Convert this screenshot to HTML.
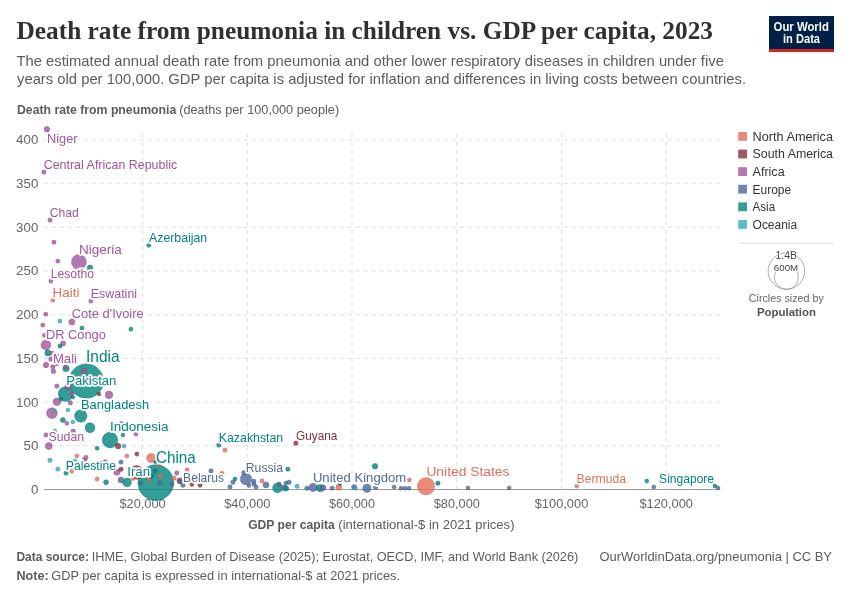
<!DOCTYPE html>
<html lang="en"><head><meta charset="utf-8"><title>Death rate from pneumonia in children vs. GDP per capita, 2023</title>
<style>html,body{margin:0;padding:0;background:#fff}body{width:850px;height:600px;overflow:hidden}svg{display:block}text{font-family:"Liberation Sans", sans-serif}.ser{font-family:"Liberation Serif", serif}.b{font-weight:700}</style></head><body>
<svg width="850" height="600" viewBox="0 0 850 600">
<rect width="850" height="600" fill="#fff"/>
<text x="16.5" y="39.4" font-size="26" fill="#303030" textLength="696.5" lengthAdjust="spacingAndGlyphs" class="ser b">Death rate from pneumonia in children vs. GDP per capita, 2023</text>
<text x="16.4" y="65.7" font-size="15" fill="#5b5b5b" textLength="707.5" lengthAdjust="spacingAndGlyphs">The estimated annual death rate from pneumonia and other lower respiratory diseases in children under five</text>
<text x="17" y="83.6" font-size="15" fill="#5b5b5b" textLength="729" lengthAdjust="spacingAndGlyphs">years old per 100,000. GDP per capita is adjusted for inflation and differences in living costs between countries.</text>
<rect x="769" y="16" width="65" height="36" fill="#002147"/><rect x="769" y="49" width="65" height="3" fill="#ce261e"/>
<text x="801.2" y="30.6" font-size="12" fill="#fff" textLength="55.3" lengthAdjust="spacingAndGlyphs" text-anchor="middle" class="b">Our World</text>
<text x="801.5" y="43.2" font-size="12" fill="#fff" textLength="37" lengthAdjust="spacingAndGlyphs" text-anchor="middle" class="b">in Data</text>
<text x="17" y="114.1" font-size="13" fill="#5b5b5b" textLength="159.2" lengthAdjust="spacingAndGlyphs" class="b">Death rate from pneumonia</text>
<text x="179.2" y="114.1" font-size="13" fill="#5b5b5b" textLength="160" lengthAdjust="spacingAndGlyphs">(deaths per 100,000 people)</text>
<line x1="43.6" x2="720" y1="445.8" y2="445.8" stroke="#ddd" stroke-dasharray="4,4"/>
<line x1="43.6" x2="720" y1="402.1" y2="402.1" stroke="#ddd" stroke-dasharray="4,4"/>
<line x1="43.6" x2="720" y1="358.4" y2="358.4" stroke="#ddd" stroke-dasharray="4,4"/>
<line x1="43.6" x2="720" y1="314.7" y2="314.7" stroke="#ddd" stroke-dasharray="4,4"/>
<line x1="43.6" x2="720" y1="271.0" y2="271.0" stroke="#ddd" stroke-dasharray="4,4"/>
<line x1="43.6" x2="720" y1="227.3" y2="227.3" stroke="#ddd" stroke-dasharray="4,4"/>
<line x1="43.6" x2="720" y1="183.6" y2="183.6" stroke="#ddd" stroke-dasharray="4,4"/>
<line x1="43.6" x2="720" y1="139.9" y2="139.9" stroke="#ddd" stroke-dasharray="4,4"/>
<text x="38.3" y="493.9" font-size="12.8" fill="#666" textLength="7.4" lengthAdjust="spacingAndGlyphs" text-anchor="end">0</text>
<text x="38.3" y="450.2" font-size="12.8" fill="#666" textLength="14.8" lengthAdjust="spacingAndGlyphs" text-anchor="end">50</text>
<text x="38.3" y="406.5" font-size="12.8" fill="#666" textLength="22.2" lengthAdjust="spacingAndGlyphs" text-anchor="end">100</text>
<text x="38.3" y="362.8" font-size="12.8" fill="#666" textLength="22.2" lengthAdjust="spacingAndGlyphs" text-anchor="end">150</text>
<text x="38.3" y="319.1" font-size="12.8" fill="#666" textLength="22.2" lengthAdjust="spacingAndGlyphs" text-anchor="end">200</text>
<text x="38.3" y="275.4" font-size="12.8" fill="#666" textLength="22.2" lengthAdjust="spacingAndGlyphs" text-anchor="end">250</text>
<text x="38.3" y="231.7" font-size="12.8" fill="#666" textLength="22.2" lengthAdjust="spacingAndGlyphs" text-anchor="end">300</text>
<text x="38.3" y="188.0" font-size="12.8" fill="#666" textLength="22.2" lengthAdjust="spacingAndGlyphs" text-anchor="end">350</text>
<text x="38.3" y="144.3" font-size="12.8" fill="#666" textLength="22.2" lengthAdjust="spacingAndGlyphs" text-anchor="end">400</text>
<line y1="489.5" y2="130" x1="142.6" x2="142.6" stroke="#ddd" stroke-dasharray="4,4"/>
<text x="142.6" y="507.6" font-size="12.8" fill="#666" textLength="46.2" lengthAdjust="spacingAndGlyphs" text-anchor="middle">$20,000</text>
<line y1="489.5" y2="130" x1="247.3" x2="247.3" stroke="#ddd" stroke-dasharray="4,4"/>
<text x="247.3" y="507.6" font-size="12.8" fill="#666" textLength="46.2" lengthAdjust="spacingAndGlyphs" text-anchor="middle">$40,000</text>
<line y1="489.5" y2="130" x1="352.0" x2="352.0" stroke="#ddd" stroke-dasharray="4,4"/>
<text x="352.0" y="507.6" font-size="12.8" fill="#666" textLength="46.2" lengthAdjust="spacingAndGlyphs" text-anchor="middle">$60,000</text>
<line y1="489.5" y2="130" x1="456.8" x2="456.8" stroke="#ddd" stroke-dasharray="4,4"/>
<text x="456.8" y="507.6" font-size="12.8" fill="#666" textLength="46.2" lengthAdjust="spacingAndGlyphs" text-anchor="middle">$80,000</text>
<line y1="489.5" y2="130" x1="561.5" x2="561.5" stroke="#ddd" stroke-dasharray="4,4"/>
<text x="561.5" y="507.6" font-size="12.8" fill="#666" textLength="53.6" lengthAdjust="spacingAndGlyphs" text-anchor="middle">$100,000</text>
<line y1="489.5" y2="130" x1="666.2" x2="666.2" stroke="#ddd" stroke-dasharray="4,4"/>
<text x="666.2" y="507.6" font-size="12.8" fill="#666" textLength="53.6" lengthAdjust="spacingAndGlyphs" text-anchor="middle">$120,000</text>
<line x1="43.6" x2="720" y1="489.5" y2="489.5" stroke="#999" stroke-width="1"/>
<text x="248.2" y="528.8" font-size="13" fill="#5b5b5b" textLength="86.6" lengthAdjust="spacingAndGlyphs" class="b">GDP per capita</text>
<text x="338.3" y="528.8" font-size="13" fill="#5b5b5b" textLength="176.2" lengthAdjust="spacingAndGlyphs">(international-$ in 2021 prices)</text>
<g stroke-width="0.5">
<circle cx="86.3" cy="381.1" r="17.2" fill="#00847E" fill-opacity="0.8" stroke="#006662" stroke-opacity="0.75"/>
<circle cx="155.8" cy="482.6" r="17.9" fill="#00847E" fill-opacity="0.8" stroke="#006662" stroke-opacity="0.75"/>
<circle cx="426" cy="486.2" r="8.6" fill="#E56E5A" fill-opacity="0.8" stroke="#b25546" stroke-opacity="0.75"/>
<circle cx="110" cy="440.1" r="7.8" fill="#00847E" fill-opacity="0.8" stroke="#006662" stroke-opacity="0.75"/>
<circle cx="65.6" cy="394.1" r="7.4" fill="#00847E" fill-opacity="0.8" stroke="#006662" stroke-opacity="0.75"/>
<circle cx="78.9" cy="262.0" r="7.5" fill="#A2559C" fill-opacity="0.8" stroke="#7e4279" stroke-opacity="0.75"/>
<circle cx="136.6" cy="472.4" r="6.9" fill="#883039" fill-opacity="0.8" stroke="#6a252c" stroke-opacity="0.75"/>
<circle cx="80.8" cy="416.0" r="6.2" fill="#00847E" fill-opacity="0.8" stroke="#006662" stroke-opacity="0.75"/>
<circle cx="246" cy="479.1" r="5.8" fill="#4C6A9C" fill-opacity="0.8" stroke="#3b5279" stroke-opacity="0.75"/>
<circle cx="51.9" cy="413.1" r="5.4" fill="#A2559C" fill-opacity="0.8" stroke="#7e4279" stroke-opacity="0.75"/>
<circle cx="90" cy="427.8" r="5" fill="#00847E" fill-opacity="0.8" stroke="#006662" stroke-opacity="0.75"/>
<circle cx="277.5" cy="487.8" r="4.9" fill="#00847E" fill-opacity="0.8" stroke="#006662" stroke-opacity="0.75"/>
<circle cx="45.9" cy="345.0" r="4.9" fill="#A2559C" fill-opacity="0.8" stroke="#7e4279" stroke-opacity="0.75"/>
<circle cx="151.2" cy="458.1" r="4.6" fill="#E56E5A" fill-opacity="0.8" stroke="#b25546" stroke-opacity="0.75"/>
<circle cx="127" cy="482.4" r="4.4" fill="#00847E" fill-opacity="0.8" stroke="#006662" stroke-opacity="0.75"/>
<circle cx="313.1" cy="487.4" r="4.2" fill="#4C6A9C" fill-opacity="0.8" stroke="#3b5279" stroke-opacity="0.75"/>
<circle cx="366.9" cy="488.2" r="4.2" fill="#4C6A9C" fill-opacity="0.8" stroke="#3b5279" stroke-opacity="0.75"/>
<circle cx="109" cy="394.9" r="3.8" fill="#A2559C" fill-opacity="0.8" stroke="#7e4279" stroke-opacity="0.75"/>
<circle cx="56.9" cy="401.8" r="3.8" fill="#A2559C" fill-opacity="0.8" stroke="#7e4279" stroke-opacity="0.75"/>
<circle cx="320" cy="488.1" r="3.6" fill="#00847E" fill-opacity="0.8" stroke="#006662" stroke-opacity="0.75"/>
<circle cx="48.8" cy="446.0" r="3.4" fill="#A2559C" fill-opacity="0.8" stroke="#7e4279" stroke-opacity="0.75"/>
<circle cx="66" cy="368.4" r="3.2" fill="#00847E" fill-opacity="0.8" stroke="#006662" stroke-opacity="0.75"/>
<circle cx="116.9" cy="472.1" r="3.2" fill="#A2559C" fill-opacity="0.8" stroke="#7e4279" stroke-opacity="0.75"/>
<circle cx="266" cy="484.9" r="3.0" fill="#4C6A9C" fill-opacity="0.8" stroke="#3b5279" stroke-opacity="0.75"/>
<circle cx="47.9" cy="352.9" r="3.1" fill="#00847E" fill-opacity="0.8" stroke="#006662" stroke-opacity="0.75"/>
<circle cx="71.9" cy="322.0" r="3.1" fill="#A2559C" fill-opacity="0.8" stroke="#7e4279" stroke-opacity="0.75"/>
<circle cx="323" cy="487.8" r="3" fill="#4C6A9C" fill-opacity="0.8" stroke="#3b5279" stroke-opacity="0.75"/>
<circle cx="284.4" cy="487.8" r="3" fill="#4C6A9C" fill-opacity="0.8" stroke="#3b5279" stroke-opacity="0.75"/>
<circle cx="338.8" cy="487.2" r="3" fill="#E56E5A" fill-opacity="0.8" stroke="#b25546" stroke-opacity="0.75"/>
<circle cx="120.9" cy="480.0" r="2.9" fill="#4C6A9C" fill-opacity="0.8" stroke="#3b5279" stroke-opacity="0.75"/>
<circle cx="179.7" cy="480.7" r="2.8" fill="#883039" fill-opacity="0.8" stroke="#6a252c" stroke-opacity="0.75"/>
<circle cx="118.1" cy="446.1" r="2.8" fill="#883039" fill-opacity="0.8" stroke="#6a252c" stroke-opacity="0.75"/>
<circle cx="375" cy="466.2" r="2.8" fill="#00847E" fill-opacity="0.8" stroke="#006662" stroke-opacity="0.75"/>
<circle cx="90" cy="267.9" r="2.8" fill="#00847E" fill-opacity="0.8" stroke="#006662" stroke-opacity="0.75"/>
<circle cx="46.9" cy="129.2" r="2.8" fill="#A2559C" fill-opacity="0.8" stroke="#7e4279" stroke-opacity="0.75"/>
<circle cx="84" cy="370.9" r="2.8" fill="#A2559C" fill-opacity="0.8" stroke="#7e4279" stroke-opacity="0.75"/>
<circle cx="46" cy="365.1" r="2.8" fill="#A2559C" fill-opacity="0.8" stroke="#7e4279" stroke-opacity="0.75"/>
<circle cx="63.1" cy="343.4" r="2.6" fill="#A2559C" fill-opacity="0.8" stroke="#7e4279" stroke-opacity="0.75"/>
<circle cx="106" cy="482.2" r="2.5" fill="#00847E" fill-opacity="0.8" stroke="#006662" stroke-opacity="0.75"/>
<circle cx="62.9" cy="420.1" r="2.5" fill="#00847E" fill-opacity="0.8" stroke="#006662" stroke-opacity="0.75"/>
<circle cx="286.3" cy="488.4" r="2.5" fill="#00847E" fill-opacity="0.8" stroke="#006662" stroke-opacity="0.75"/>
<circle cx="354.1" cy="486.9" r="2.5" fill="#4C6A9C" fill-opacity="0.8" stroke="#3b5279" stroke-opacity="0.75"/>
<circle cx="68" cy="386.8" r="3.2" fill="#A2559C" fill-opacity="0.8" stroke="#7e4279" stroke-opacity="0.75"/>
<circle cx="58" cy="356.0" r="2" fill="#A2559C" fill-opacity="0.8" stroke="#7e4279" stroke-opacity="0.75"/>
<circle cx="56.9" cy="363.9" r="2" fill="#A2559C" fill-opacity="0.8" stroke="#7e4279" stroke-opacity="0.75"/>
<circle cx="73.1" cy="431.6" r="2.5" fill="#A2559C" fill-opacity="0.8" stroke="#7e4279" stroke-opacity="0.75"/>
<circle cx="84.4" cy="460.3" r="2.5" fill="#A2559C" fill-opacity="0.8" stroke="#7e4279" stroke-opacity="0.75"/>
<circle cx="105" cy="462.2" r="2.5" fill="#A2559C" fill-opacity="0.8" stroke="#7e4279" stroke-opacity="0.75"/>
<circle cx="121.6" cy="424.1" r="2.6" fill="#A2559C" fill-opacity="0.8" stroke="#7e4279" stroke-opacity="0.75"/>
<circle cx="151.2" cy="476.1" r="2.5" fill="#00847E" fill-opacity="0.8" stroke="#006662" stroke-opacity="0.75"/>
<circle cx="53.4" cy="371.3" r="2.4" fill="#A2559C" fill-opacity="0.8" stroke="#7e4279" stroke-opacity="0.75"/>
<circle cx="52.9" cy="366.8" r="2.3" fill="#A2559C" fill-opacity="0.8" stroke="#7e4279" stroke-opacity="0.75"/>
<circle cx="51" cy="359.1" r="2.3" fill="#A2559C" fill-opacity="0.8" stroke="#7e4279" stroke-opacity="0.75"/>
<circle cx="70.3" cy="402.8" r="2.3" fill="#A2559C" fill-opacity="0.8" stroke="#7e4279" stroke-opacity="0.75"/>
<circle cx="253.8" cy="481.3" r="2.2" fill="#4C6A9C" fill-opacity="0.8" stroke="#3b5279" stroke-opacity="0.75"/>
<circle cx="253.8" cy="483.9" r="2.2" fill="#4C6A9C" fill-opacity="0.8" stroke="#3b5279" stroke-opacity="0.75"/>
<circle cx="43.9" cy="172.1" r="2.2" fill="#A2559C" fill-opacity="0.8" stroke="#7e4279" stroke-opacity="0.75"/>
<circle cx="50" cy="220.1" r="2.2" fill="#A2559C" fill-opacity="0.8" stroke="#7e4279" stroke-opacity="0.75"/>
<circle cx="54" cy="242.2" r="2.1" fill="#A2559C" fill-opacity="0.8" stroke="#7e4279" stroke-opacity="0.75"/>
<circle cx="57.8" cy="261.1" r="2.1" fill="#A2559C" fill-opacity="0.8" stroke="#7e4279" stroke-opacity="0.75"/>
<circle cx="148.8" cy="245.3" r="2.1" fill="#00847E" fill-opacity="0.8" stroke="#006662" stroke-opacity="0.75"/>
<circle cx="50.9" cy="281.1" r="2.1" fill="#A2559C" fill-opacity="0.8" stroke="#7e4279" stroke-opacity="0.75"/>
<circle cx="52.8" cy="300.3" r="2" fill="#E56E5A" fill-opacity="0.8" stroke="#b25546" stroke-opacity="0.75"/>
<circle cx="90.9" cy="301.1" r="2.1" fill="#A2559C" fill-opacity="0.8" stroke="#7e4279" stroke-opacity="0.75"/>
<circle cx="45.8" cy="314.2" r="2.1" fill="#A2559C" fill-opacity="0.8" stroke="#7e4279" stroke-opacity="0.75"/>
<circle cx="59.9" cy="321.1" r="2.1" fill="#38AABA" fill-opacity="0.8" stroke="#2b8491" stroke-opacity="0.75"/>
<circle cx="42.8" cy="325.1" r="2.1" fill="#A2559C" fill-opacity="0.8" stroke="#7e4279" stroke-opacity="0.75"/>
<circle cx="82" cy="328.1" r="2.1" fill="#00847E" fill-opacity="0.8" stroke="#006662" stroke-opacity="0.75"/>
<circle cx="130.9" cy="329.1" r="2.1" fill="#00847E" fill-opacity="0.8" stroke="#006662" stroke-opacity="0.75"/>
<circle cx="44.5" cy="335.3" r="2.1" fill="#A2559C" fill-opacity="0.8" stroke="#7e4279" stroke-opacity="0.75"/>
<circle cx="60" cy="346.1" r="2.2" fill="#00847E" fill-opacity="0.8" stroke="#006662" stroke-opacity="0.75"/>
<circle cx="51.9" cy="353.1" r="2.1" fill="#A2559C" fill-opacity="0.8" stroke="#7e4279" stroke-opacity="0.75"/>
<circle cx="65" cy="367.2" r="1.8" fill="#A2559C" fill-opacity="0.8" stroke="#7e4279" stroke-opacity="0.75"/>
<circle cx="56.9" cy="386.1" r="2.2" fill="#A2559C" fill-opacity="0.8" stroke="#7e4279" stroke-opacity="0.75"/>
<circle cx="71.9" cy="394.1" r="2" fill="#A2559C" fill-opacity="0.8" stroke="#7e4279" stroke-opacity="0.75"/>
<circle cx="73.1" cy="397.2" r="1.8" fill="#00847E" fill-opacity="0.8" stroke="#006662" stroke-opacity="0.75"/>
<circle cx="61" cy="399.1" r="1.8" fill="#00847E" fill-opacity="0.8" stroke="#006662" stroke-opacity="0.75"/>
<circle cx="99" cy="394.1" r="1.9" fill="#883039" fill-opacity="0.8" stroke="#6a252c" stroke-opacity="0.75"/>
<circle cx="54" cy="410.9" r="1.8" fill="#38AABA" fill-opacity="0.8" stroke="#2b8491" stroke-opacity="0.75"/>
<circle cx="67.9" cy="410.1" r="2" fill="#38AABA" fill-opacity="0.8" stroke="#2b8491" stroke-opacity="0.75"/>
<circle cx="66.9" cy="423.2" r="2" fill="#A2559C" fill-opacity="0.8" stroke="#7e4279" stroke-opacity="0.75"/>
<circle cx="72.9" cy="421.9" r="2" fill="#38AABA" fill-opacity="0.8" stroke="#2b8491" stroke-opacity="0.75"/>
<circle cx="54.8" cy="430.9" r="2" fill="#38AABA" fill-opacity="0.8" stroke="#2b8491" stroke-opacity="0.75"/>
<circle cx="46" cy="434.9" r="2.2" fill="#A2559C" fill-opacity="0.8" stroke="#7e4279" stroke-opacity="0.75"/>
<circle cx="106.9" cy="441.2" r="1.8" fill="#38AABA" fill-opacity="0.8" stroke="#2b8491" stroke-opacity="0.75"/>
<circle cx="122.9" cy="435.1" r="2" fill="#00847E" fill-opacity="0.8" stroke="#006662" stroke-opacity="0.75"/>
<circle cx="136" cy="434.2" r="2" fill="#A2559C" fill-opacity="0.8" stroke="#7e4279" stroke-opacity="0.75"/>
<circle cx="126.3" cy="427.8" r="1.9" fill="#A2559C" fill-opacity="0.8" stroke="#7e4279" stroke-opacity="0.75"/>
<circle cx="124" cy="446.1" r="2" fill="#38AABA" fill-opacity="0.8" stroke="#2b8491" stroke-opacity="0.75"/>
<circle cx="97.1" cy="448.2" r="2" fill="#00847E" fill-opacity="0.8" stroke="#006662" stroke-opacity="0.75"/>
<circle cx="76.9" cy="455.9" r="2" fill="#E56E5A" fill-opacity="0.8" stroke="#b25546" stroke-opacity="0.75"/>
<circle cx="85.9" cy="457.4" r="2.2" fill="#A2559C" fill-opacity="0.8" stroke="#7e4279" stroke-opacity="0.75"/>
<circle cx="75" cy="460.9" r="2" fill="#38AABA" fill-opacity="0.8" stroke="#2b8491" stroke-opacity="0.75"/>
<circle cx="126.9" cy="456.1" r="2" fill="#E56E5A" fill-opacity="0.8" stroke="#b25546" stroke-opacity="0.75"/>
<circle cx="136.9" cy="454.1" r="2.1" fill="#883039" fill-opacity="0.8" stroke="#6a252c" stroke-opacity="0.75"/>
<circle cx="50" cy="460.3" r="2.2" fill="#38AABA" fill-opacity="0.8" stroke="#2b8491" stroke-opacity="0.75"/>
<circle cx="121" cy="462.1" r="2.2" fill="#4C6A9C" fill-opacity="0.8" stroke="#3b5279" stroke-opacity="0.75"/>
<circle cx="57.9" cy="469.1" r="2.2" fill="#38AABA" fill-opacity="0.8" stroke="#2b8491" stroke-opacity="0.75"/>
<circle cx="121" cy="469.2" r="2.2" fill="#883039" fill-opacity="0.8" stroke="#6a252c" stroke-opacity="0.75"/>
<circle cx="71.9" cy="471.3" r="2" fill="#E56E5A" fill-opacity="0.8" stroke="#b25546" stroke-opacity="0.75"/>
<circle cx="66" cy="473.1" r="2.2" fill="#00847E" fill-opacity="0.8" stroke="#006662" stroke-opacity="0.75"/>
<circle cx="97.1" cy="479.1" r="2.1" fill="#E56E5A" fill-opacity="0.8" stroke="#b25546" stroke-opacity="0.75"/>
<circle cx="132.9" cy="478.5" r="2" fill="#E56E5A" fill-opacity="0.8" stroke="#b25546" stroke-opacity="0.75"/>
<circle cx="155.2" cy="462.3" r="1.5" fill="#00847E" fill-opacity="0.8" stroke="#006662" stroke-opacity="0.75"/>
<circle cx="160" cy="465.3" r="1.5" fill="#E56E5A" fill-opacity="0.8" stroke="#b25546" stroke-opacity="0.75"/>
<circle cx="155.1" cy="471.1" r="2.1" fill="#00847E" fill-opacity="0.8" stroke="#006662" stroke-opacity="0.75"/>
<circle cx="160.1" cy="476.1" r="2.1" fill="#E56E5A" fill-opacity="0.8" stroke="#b25546" stroke-opacity="0.75"/>
<circle cx="149.1" cy="479.4" r="2" fill="#E56E5A" fill-opacity="0.8" stroke="#b25546" stroke-opacity="0.75"/>
<circle cx="140.8" cy="483.1" r="2.1" fill="#4C6A9C" fill-opacity="0.8" stroke="#3b5279" stroke-opacity="0.75"/>
<circle cx="159.9" cy="483.0" r="2.1" fill="#4C6A9C" fill-opacity="0.8" stroke="#3b5279" stroke-opacity="0.75"/>
<circle cx="171.8" cy="484.1" r="2.1" fill="#4C6A9C" fill-opacity="0.8" stroke="#3b5279" stroke-opacity="0.75"/>
<circle cx="174.1" cy="478.2" r="2.2" fill="#E56E5A" fill-opacity="0.8" stroke="#b25546" stroke-opacity="0.75"/>
<circle cx="176.8" cy="473.0" r="2.2" fill="#A2559C" fill-opacity="0.8" stroke="#7e4279" stroke-opacity="0.75"/>
<circle cx="180" cy="482.1" r="2" fill="#4C6A9C" fill-opacity="0.8" stroke="#3b5279" stroke-opacity="0.75"/>
<circle cx="187.1" cy="469.9" r="2.1" fill="#E56E5A" fill-opacity="0.8" stroke="#b25546" stroke-opacity="0.75"/>
<circle cx="211" cy="470.9" r="2.2" fill="#4C6A9C" fill-opacity="0.8" stroke="#3b5279" stroke-opacity="0.75"/>
<circle cx="183" cy="485.3" r="2.2" fill="#4C6A9C" fill-opacity="0.8" stroke="#3b5279" stroke-opacity="0.75"/>
<circle cx="191.9" cy="484.5" r="2.1" fill="#883039" fill-opacity="0.8" stroke="#6a252c" stroke-opacity="0.75"/>
<circle cx="200" cy="485.3" r="2.1" fill="#883039" fill-opacity="0.8" stroke="#6a252c" stroke-opacity="0.75"/>
<circle cx="218.8" cy="445.1" r="2.2" fill="#00847E" fill-opacity="0.8" stroke="#006662" stroke-opacity="0.75"/>
<circle cx="225" cy="450.1" r="2.2" fill="#E56E5A" fill-opacity="0.8" stroke="#b25546" stroke-opacity="0.75"/>
<circle cx="221.9" cy="473.4" r="2.2" fill="#E56E5A" fill-opacity="0.8" stroke="#b25546" stroke-opacity="0.75"/>
<circle cx="243.8" cy="472.8" r="2.2" fill="#4C6A9C" fill-opacity="0.8" stroke="#3b5279" stroke-opacity="0.75"/>
<circle cx="235" cy="479.1" r="2.1" fill="#00847E" fill-opacity="0.8" stroke="#006662" stroke-opacity="0.75"/>
<circle cx="232.9" cy="482.2" r="2.2" fill="#4C6A9C" fill-opacity="0.8" stroke="#3b5279" stroke-opacity="0.75"/>
<circle cx="230" cy="486.9" r="2.2" fill="#4C6A9C" fill-opacity="0.8" stroke="#3b5279" stroke-opacity="0.75"/>
<circle cx="249" cy="485.6" r="2" fill="#4C6A9C" fill-opacity="0.8" stroke="#3b5279" stroke-opacity="0.75"/>
<circle cx="256" cy="486.9" r="2.2" fill="#4C6A9C" fill-opacity="0.8" stroke="#3b5279" stroke-opacity="0.75"/>
<circle cx="261.9" cy="480.9" r="2.1" fill="#E56E5A" fill-opacity="0.8" stroke="#b25546" stroke-opacity="0.75"/>
<circle cx="295.9" cy="443.2" r="2.2" fill="#883039" fill-opacity="0.8" stroke="#6a252c" stroke-opacity="0.75"/>
<circle cx="287.9" cy="469.1" r="2.2" fill="#00847E" fill-opacity="0.8" stroke="#006662" stroke-opacity="0.75"/>
<circle cx="279" cy="484.1" r="2.2" fill="#4C6A9C" fill-opacity="0.8" stroke="#3b5279" stroke-opacity="0.75"/>
<circle cx="285.9" cy="483.1" r="2" fill="#4C6A9C" fill-opacity="0.8" stroke="#3b5279" stroke-opacity="0.75"/>
<circle cx="289" cy="482.2" r="2.2" fill="#4C6A9C" fill-opacity="0.8" stroke="#3b5279" stroke-opacity="0.75"/>
<circle cx="297.1" cy="486.2" r="2.2" fill="#38AABA" fill-opacity="0.8" stroke="#2b8491" stroke-opacity="0.75"/>
<circle cx="306.9" cy="488.2" r="2.2" fill="#4C6A9C" fill-opacity="0.8" stroke="#3b5279" stroke-opacity="0.75"/>
<circle cx="332.1" cy="488.1" r="2.2" fill="#4C6A9C" fill-opacity="0.8" stroke="#3b5279" stroke-opacity="0.75"/>
<circle cx="339.8" cy="484.3" r="1.5" fill="#00847E" fill-opacity="0.8" stroke="#006662" stroke-opacity="0.75"/>
<circle cx="355.5" cy="488.3" r="2" fill="#38AABA" fill-opacity="0.8" stroke="#2b8491" stroke-opacity="0.75"/>
<circle cx="375.6" cy="487.4" r="2.2" fill="#4C6A9C" fill-opacity="0.8" stroke="#3b5279" stroke-opacity="0.75"/>
<circle cx="394.1" cy="486.9" r="2" fill="#4C6A9C" fill-opacity="0.8" stroke="#3b5279" stroke-opacity="0.75"/>
<circle cx="401" cy="488.2" r="2" fill="#4C6A9C" fill-opacity="0.8" stroke="#3b5279" stroke-opacity="0.75"/>
<circle cx="405" cy="488.2" r="2" fill="#4C6A9C" fill-opacity="0.8" stroke="#3b5279" stroke-opacity="0.75"/>
<circle cx="409" cy="488.2" r="2" fill="#4C6A9C" fill-opacity="0.8" stroke="#3b5279" stroke-opacity="0.75"/>
<circle cx="409.4" cy="479.9" r="2" fill="#E56E5A" fill-opacity="0.8" stroke="#b25546" stroke-opacity="0.75"/>
<circle cx="437.9" cy="483.2" r="2.2" fill="#00847E" fill-opacity="0.8" stroke="#006662" stroke-opacity="0.75"/>
<circle cx="467.9" cy="487.9" r="2" fill="#4C6A9C" fill-opacity="0.8" stroke="#3b5279" stroke-opacity="0.75"/>
<circle cx="509.2" cy="487.9" r="2" fill="#4C6A9C" fill-opacity="0.8" stroke="#3b5279" stroke-opacity="0.75"/>
<circle cx="576.8" cy="486.1" r="2" fill="#E56E5A" fill-opacity="0.8" stroke="#b25546" stroke-opacity="0.75"/>
<circle cx="646.8" cy="481.1" r="2" fill="#00847E" fill-opacity="0.8" stroke="#006662" stroke-opacity="0.75"/>
<circle cx="653.8" cy="487.0" r="2" fill="#4C6A9C" fill-opacity="0.8" stroke="#3b5279" stroke-opacity="0.75"/>
<circle cx="714.9" cy="486.0" r="2" fill="#00847E" fill-opacity="0.8" stroke="#006662" stroke-opacity="0.75"/>
<circle cx="718.1" cy="487.9" r="2" fill="#4C6A9C" fill-opacity="0.8" stroke="#3b5279" stroke-opacity="0.75"/>
</g>
<g paint-order="stroke" stroke="#fff" stroke-width="3.4" stroke-linejoin="round">
<text x="47.0" y="142.9" font-size="12.8" fill="#A2559C" textLength="30.6" lengthAdjust="spacingAndGlyphs">Niger</text>
<text x="43.7" y="169.3" font-size="12.8" fill="#A2559C" textLength="133.5" lengthAdjust="spacingAndGlyphs">Central African Republic</text>
<text x="49.8" y="216.8" font-size="12.6" fill="#A2559C" textLength="29.0" lengthAdjust="spacingAndGlyphs">Chad</text>
<text x="79.0" y="254.0" font-size="13.2" fill="#A2559C" textLength="42.9" lengthAdjust="spacingAndGlyphs">Nigeria</text>
<text x="149.1" y="242.3" font-size="12.6" fill="#00847E" textLength="58.0" lengthAdjust="spacingAndGlyphs">Azerbaijan</text>
<text x="50.7" y="277.5" font-size="12.6" fill="#A2559C" textLength="43.4" lengthAdjust="spacingAndGlyphs">Lesotho</text>
<text x="52.6" y="296.6" font-size="12.6" fill="#E56E5A" textLength="26.9" lengthAdjust="spacingAndGlyphs">Haiti</text>
<text x="90.7" y="297.8" font-size="12.6" fill="#A2559C" textLength="46.4" lengthAdjust="spacingAndGlyphs">Eswatini</text>
<text x="71.7" y="318.0" font-size="12.8" fill="#A2559C" textLength="72.0" lengthAdjust="spacingAndGlyphs">Cote d'Ivoire</text>
<text x="46.1" y="338.5" font-size="12.9" fill="#A2559C" textLength="59.7" lengthAdjust="spacingAndGlyphs">DR Congo</text>
<text x="52.9" y="363.2" font-size="12.6" fill="#A2559C" textLength="24.1" lengthAdjust="spacingAndGlyphs">Mali</text>
<text x="86.0" y="362.2" font-size="15.9" fill="#00847E" textLength="33.5" lengthAdjust="spacingAndGlyphs">India</text>
<text x="66.2" y="384.8" font-size="13.3" fill="#00847E" textLength="50.2" lengthAdjust="spacingAndGlyphs">Pakistan</text>
<text x="81.0" y="408.7" font-size="13" fill="#00847E" textLength="68.1" lengthAdjust="spacingAndGlyphs">Bangladesh</text>
<text x="48.5" y="441.3" font-size="12.6" fill="#A2559C" textLength="35.6" lengthAdjust="spacingAndGlyphs">Sudan</text>
<text x="109.9" y="430.9" font-size="13.4" fill="#00847E" textLength="58.6" lengthAdjust="spacingAndGlyphs">Indonesia</text>
<text x="65.8" y="470.1" font-size="12.6" fill="#00847E" textLength="50.2" lengthAdjust="spacingAndGlyphs">Palestine</text>
<text x="156.0" y="463.0" font-size="16.4" fill="#00847E" textLength="39.8" lengthAdjust="spacingAndGlyphs">China</text>
<text x="127.2" y="476.1" font-size="12.6" fill="#00847E" textLength="22.9" lengthAdjust="spacingAndGlyphs">Iran</text>
<text x="183.1" y="482.0" font-size="12.6" fill="#4C6A9C" textLength="41.0" lengthAdjust="spacingAndGlyphs">Belarus</text>
<text x="218.8" y="441.6" font-size="12.6" fill="#00847E" textLength="64.4" lengthAdjust="spacingAndGlyphs">Kazakhstan</text>
<text x="245.8" y="472.0" font-size="12.8" fill="#4C6A9C" textLength="37.3" lengthAdjust="spacingAndGlyphs">Russia</text>
<text x="296.0" y="440.3" font-size="12.4" fill="#883039" textLength="41.4" lengthAdjust="spacingAndGlyphs">Guyana</text>
<text x="312.9" y="481.9" font-size="13" fill="#4C6A9C" textLength="93.3" lengthAdjust="spacingAndGlyphs">United Kingdom</text>
<text x="426.4" y="476.0" font-size="13.5" fill="#E56E5A" textLength="83.0" lengthAdjust="spacingAndGlyphs">United States</text>
<text x="576.6" y="483.0" font-size="12.5" fill="#E56E5A" textLength="49.4" lengthAdjust="spacingAndGlyphs">Bermuda</text>
<text x="659.1" y="483.1" font-size="12.5" fill="#00847E" textLength="55.0" lengthAdjust="spacingAndGlyphs">Singapore</text>
</g>
<rect x="738.2" y="132.0" width="8.8" height="8.8" fill="#E56E5A" fill-opacity="0.8"/>
<text x="752.6" y="140.7" font-size="12.5" fill="#333" textLength="80.4" lengthAdjust="spacingAndGlyphs">North America</text>
<rect x="738.2" y="149.6" width="8.8" height="8.8" fill="#883039" fill-opacity="0.8"/>
<text x="752.6" y="158.3" font-size="12.5" fill="#333" textLength="80.4" lengthAdjust="spacingAndGlyphs">South America</text>
<rect x="738.2" y="167.2" width="8.8" height="8.8" fill="#A2559C" fill-opacity="0.8"/>
<text x="752.6" y="175.9" font-size="12.5" fill="#333" textLength="32" lengthAdjust="spacingAndGlyphs">Africa</text>
<rect x="738.2" y="184.8" width="8.8" height="8.8" fill="#4C6A9C" fill-opacity="0.8"/>
<text x="752.6" y="193.5" font-size="12.5" fill="#333" textLength="38.5" lengthAdjust="spacingAndGlyphs">Europe</text>
<rect x="738.2" y="202.4" width="8.8" height="8.8" fill="#00847E" fill-opacity="0.8"/>
<text x="752.6" y="211.1" font-size="12.5" fill="#333" textLength="22.5" lengthAdjust="spacingAndGlyphs">Asia</text>
<rect x="738.2" y="220.0" width="8.8" height="8.8" fill="#38AABA" fill-opacity="0.8"/>
<text x="752.6" y="228.7" font-size="12.5" fill="#333" textLength="44.5" lengthAdjust="spacingAndGlyphs">Oceania</text>
<line x1="738.3" x2="834" y1="243.2" y2="243.2" stroke="#e0e0e0"/>
<circle cx="786.4" cy="271" r="18.3" fill="none" stroke="#999" stroke-width="0.8"/>
<circle cx="786.4" cy="277.3" r="12" fill="none" stroke="#999" stroke-width="0.8"/>
<g paint-order="stroke" stroke="#fff" stroke-width="2" stroke-linejoin="round">
<text x="786.2" y="258.7" font-size="10" fill="#444" textLength="21.4" lengthAdjust="spacingAndGlyphs" text-anchor="middle">1.4B</text>
<text x="786" y="270.8" font-size="9" fill="#444" textLength="24.3" lengthAdjust="spacingAndGlyphs" text-anchor="middle">600M</text>
</g>
<text x="786.3" y="301.5" font-size="10.9" fill="#666" textLength="75" lengthAdjust="spacingAndGlyphs" text-anchor="middle">Circles sized by</text>
<text x="786.5" y="315.8" font-size="11.6" fill="#555" textLength="59" lengthAdjust="spacingAndGlyphs" text-anchor="middle" class="b">Population</text>
<text x="16.4" y="560.6" font-size="13" fill="#5b5b5b" textLength="72.6" lengthAdjust="spacingAndGlyphs" class="b">Data source:</text>
<text x="91.8" y="560.6" font-size="13" fill="#5b5b5b" textLength="486.4" lengthAdjust="spacingAndGlyphs">IHME, Global Burden of Disease (2025); Eurostat, OECD, IMF, and World Bank (2026)</text>
<text x="16.4" y="580.4" font-size="13" fill="#5b5b5b" textLength="32.2" lengthAdjust="spacingAndGlyphs" class="b">Note:</text>
<text x="51.2" y="580.4" font-size="13" fill="#5b5b5b" textLength="348.8" lengthAdjust="spacingAndGlyphs">GDP per capita is expressed in international-$ at 2021 prices.</text>
<text x="832" y="560.6" font-size="13" fill="#5b5b5b" textLength="232.5" lengthAdjust="spacingAndGlyphs" text-anchor="end">OurWorldinData.org/pneumonia | CC BY</text>
</svg></body></html>
